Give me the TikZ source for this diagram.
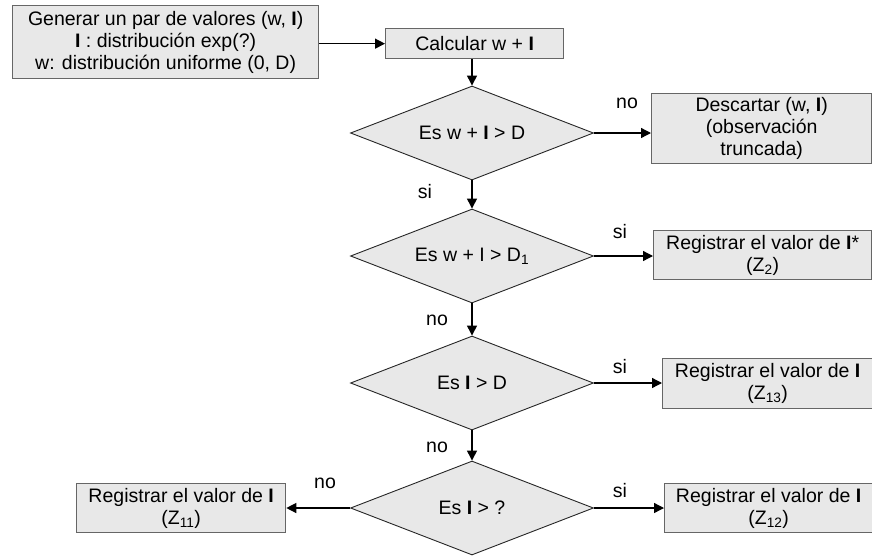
\documentclass[tikz,border=0pt]{standalone}
\usepackage{fontspec}
\setmainfont{Liberation Sans}
\usetikzlibrary{arrows.meta,shapes.geometric}
\begin{document}
\begin{tikzpicture}[x=1pt,y=-1pt,
  font=\fontsize{19.5}{22}\selectfont,
  box/.style={draw=black!60,line width=1.3pt,fill=black!9,inner sep=0pt,align=center,anchor=north west},
  dia/.style={draw=black!85,line width=0.9pt,fill=black!9,diamond,aspect=3,inner sep=0pt,minimum width=243pt,minimum height=94pt},
  arr/.style={line width=1.3pt,-{Triangle[length=10pt,width=10pt]}},
  lab/.style={inner sep=0pt}]
\useasboundingbox (0,0) rectangle (872,557);
% boxes
\node[box,minimum width=306pt,minimum height=73pt] (gen) at (12,5)
  {Generar un par de valores (w, \textbf{I})\\\textbf{I} : distribución exp(?)\\w: distribución uniforme (0, D)};
\node[box,minimum width=178pt,minimum height=30pt] (calc) at (385,28) {Calcular w + \textbf{I}};
\node[dia] (d1) at (472,133) {Es w + \textbf{I} > D};
\node[box,minimum width=220pt,minimum height=70pt] (desc) at (651,93) {Descartar (w, \textbf{I})\\(observación\\truncada)};
\node[dia] (d2) at (472,256) {Es w + I > D\textsubscript{1}};
\node[box,minimum width=218pt,minimum height=49pt] (z2) at (653,230) {Registrar el valor de \textbf{I}*\\(Z\textsubscript{2})};
\node[dia] (d3) at (472,383) {Es \textbf{I} > D};
\node[box,minimum width=210pt,minimum height=50pt] (z13) at (662,358) {Registrar el valor de \textbf{I}\\(Z\textsubscript{13})};
\node[dia] (d4) at (472,508) {Es \textbf{I} > ?};
\node[box,minimum width=208pt,minimum height=49pt] (z12) at (664,483) {Registrar el valor de \textbf{I}\\(Z\textsubscript{12})};
\node[box,minimum width=209pt,minimum height=49pt] (z11) at (76,483) {Registrar el valor de \textbf{I}\\(Z\textsubscript{11})};
% connectors
\draw[arr] (gen.east |- calc.west) -- (calc.west);
\draw[arr] (calc.south -| d1.north) -- (d1.north);
\draw[arr] (d1.east) -- (desc.west |- d1.east);
\draw[arr] (d1.south) -- (d2.north);
\draw[arr] (d2.east) -- (z2.west |- d2.east);
\draw[arr] (d2.south) -- (d3.north);
\draw[arr] (d3.east) -- (z13.west |- d3.east);
\draw[arr] (d3.south) -- (d4.north);
\draw[arr] (d4.east) -- (z12.west |- d4.east);
\draw[arr] (d4.west) -- (z11.east |- d4.west);
% labels
\node[lab] (l1) at (627,103) {no};
\node[lab] (l2) at (425,192) {si};
\node[lab] (l3) at (620,232) {si};
\node[lab] (l4) at (437,320) {no};
\node[lab] (l5) at (620,367) {si};
\node[lab] (l6) at (437,447) {no};
\node[lab] (l7) at (620,491) {si};
\node[lab] (l8) at (325,483) {no};
\end{tikzpicture}
\end{document}
